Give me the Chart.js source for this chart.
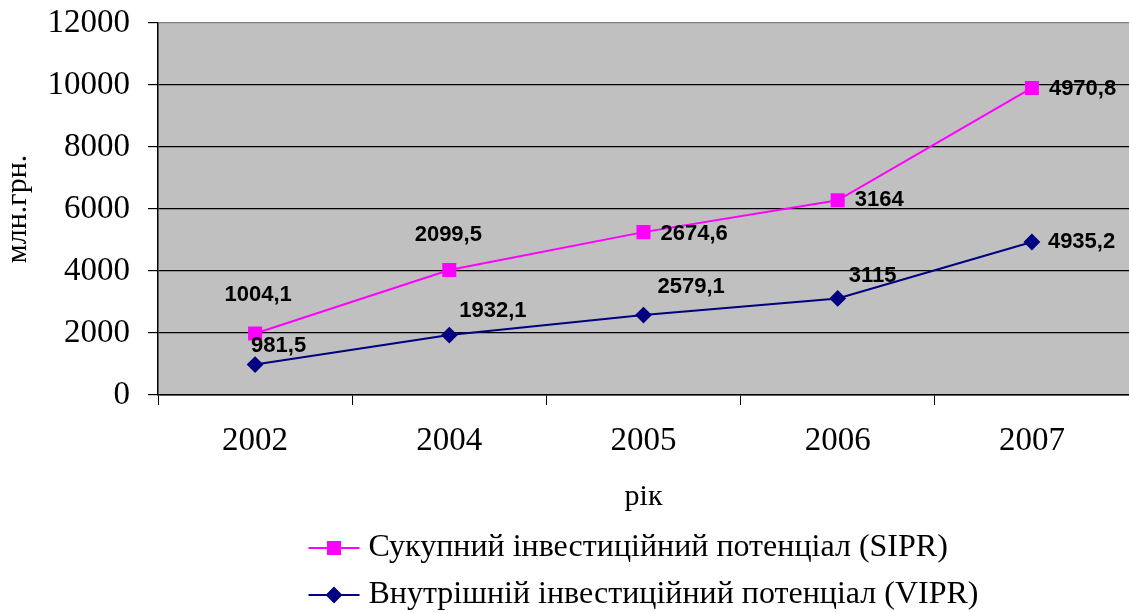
<!DOCTYPE html>
<html>
<head>
<meta charset="utf-8">
<script src="https://cdn.jsdelivr.net/npm/chart.js@4.4.1/dist/chart.umd.min.js"></script>
<style>
    html, body { margin: 0; padding: 0; background: #fff; }
    #wrap { width: 1129px; height: 613px; }
</style>
</head>
<body>
<div id="wrap"><canvas id="myChart"></canvas></div>
<script>
const years = ['2002', '2004', '2005', '2006', '2007']
const sipr = [1004.1, 2099.5, 2674.6, 3164, 4970.8]
const vipr = [981.5, 1932.1, 2579.1, 3115, 4935.2]
const yMax = 12000
const yStep = 2000
const siprName = 'Сукупний інвестиційний потенціал (SIPR)'
const viprName = 'Внутрішній інвестиційний потенціал (VIPR)'

// where each value label sits relative to its point: [dx, dy, align]
const viprLabelPos = [[-4, -19, 'left'], [10, -24, 'left'], [14, -28, 'left'], [11, -22, 'left'], [16, 0, 'left']]
const siprLabelPos = [[3, -39, 'center'], [-1, -35, 'center'], [17, 2, 'left'], [17, 0, 'left'], [17, 1, 'left']]

const serif = "'Liberation Serif', 'Times New Roman', serif"
const sans = "'Liberation Sans', Arial, sans-serif"

const plotBg = {
    id: 'plotBg',
    beforeDraw(chart) {
        const {ctx, chartArea: a} = chart
        ctx.save()
        ctx.fillStyle = '#c0c0c0'
        ctx.fillRect(a.left, a.top, a.right - a.left, a.bottom - a.top)
        ctx.restore()
    }
}

const valueLabels = {
    id: 'valueLabels',
    afterDatasetsDraw(chart) {
        const ctx = chart.ctx
        ctx.save()
        ctx.font = 'bold 22px ' + sans
        ctx.fillStyle = '#000'
        ctx.textBaseline = 'middle'
        chart.data.datasets.forEach((ds, di) => {
            const meta = chart.getDatasetMeta(di)
            meta.data.forEach((pt, i) => {
                const [dx, dy, align] = ds.labelPos[i]
                ctx.textAlign = align
                ctx.fillText(String(ds.data[i]).replace('.', ','), pt.x + dx, pt.y + dy)
            })
        })
        ctx.restore()
    }
}

const lineLegend = {
    id: 'lineLegend',
    afterDraw(chart) {
        const {ctx, chartArea: a} = chart
        const items = [chart.data.datasets[1], chart.data.datasets[0]]
        ctx.save()
        ctx.font = '32px ' + serif
        const maxW = Math.max(...items.map(d => ctx.measureText(d.label).width))
        const left = (a.left + a.right) / 2 - (60 + maxW) / 2
        items.forEach((d, i) => {
            const y = 548 + i * 47
            ctx.strokeStyle = d.borderColor
            ctx.lineWidth = 2
            ctx.beginPath()
            ctx.moveTo(left, y)
            ctx.lineTo(left + 51, y)
            ctx.stroke()
            Chart.helpers.drawPoint(ctx, {
                pointStyle: d.pointStyle,
                radius: d.pointRadius,
                borderWidth: 1
            }, left + 25.5, y)
            ctx.fillStyle = d.pointBackgroundColor
            ctx.fill()
            ctx.fillStyle = '#000'
            ctx.textAlign = 'left'
            ctx.textBaseline = 'middle'
            ctx.fillText(d.label, left + 60, y)
        })
        ctx.restore()
    }
}

new Chart(document.getElementById('myChart'), {
    type: 'line',
    data: {
        labels: years,
        datasets: [{
            label: viprName,
            data: vipr,
            labelPos: viprLabelPos,
            borderColor: '#000080',
            backgroundColor: '#000080',
            pointBackgroundColor: '#000080',
            pointBorderColor: '#000080',
            pointStyle: 'rectRot',
            pointRadius: 7,
            borderWidth: 2,
            tension: 0
        }, {
            label: siprName,
            data: sipr,
            labelPos: siprLabelPos,
            borderColor: '#ff00ff',
            backgroundColor: '#ff00ff',
            pointBackgroundColor: '#ff00ff',
            pointBorderColor: '#ff00ff',
            pointStyle: 'rect',
            pointRadius: 8.5,
            borderWidth: 2,
            tension: 0
        }]
    },
    options: {
        responsive: true,
        maintainAspectRatio: false,
        animation: false,
        layout: {autoPadding: false, padding: {top: 23, left: 0, right: 0, bottom: 98}},
        plugins: {
            legend: {display: false},
            tooltip: {enabled: false}
        },
        scales: {
            x: {
                offset: true,
                grid: {offset: true, drawOnChartArea: false, tickLength: 10, color: '#000', lineWidth: 1},
                border: {color: '#000', width: 1.5},
                ticks: {color: '#000', font: {family: serif, size: 33}, padding: 17, maxRotation: 0},
                title: {display: true, text: 'рік', color: '#000', font: {family: serif, size: 30}, padding: 0},
                afterFit(scale) { scale.height = 120 }
            },
            y: {
                stacked: true,
                min: 0,
                max: yMax,
                ticks: {
                    stepSize: yStep,
                    color: '#000',
                    font: {family: serif, size: 33},
                    padding: 18,
                    callback: v => String(v)
                },
                grid: {
                    color: c => c.tick && c.tick.value === yMax ? '#808080' : '#000',
                    tickColor: '#000',
                    tickLength: 10,
                    lineWidth: 1.2
                },
                border: {color: '#000', width: 1.5},
                title: {display: true, text: 'млн.грн.', color: '#000', font: {family: serif, size: 30}, padding: 0},
                afterFit(scale) {
                    scale.width = 158
                    scale.paddingTop = 0
                    scale.paddingBottom = 0
                }
            }
        }
    },
    plugins: [plotBg, valueLabels, lineLegend]
})
</script>
</body>
</html>
